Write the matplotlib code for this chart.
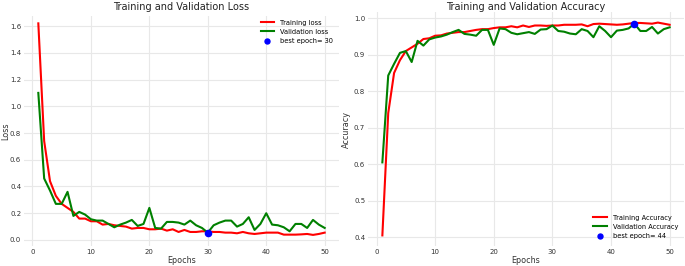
import numpy as np
import matplotlib
matplotlib.use("Agg")
import matplotlib.pyplot as plt

# data
epochs = list(range(1, 51))

train_loss = [1.62, 0.74, 0.44, 0.33, 0.27, 0.24, 0.21, 0.16, 0.16, 0.14,
              0.14, 0.115, 0.12, 0.11, 0.105, 0.10, 0.085, 0.09, 0.09, 0.08,
              0.08, 0.085, 0.07, 0.08, 0.06, 0.075, 0.06, 0.06, 0.065, 0.065,
              0.06, 0.06, 0.055, 0.055, 0.05, 0.06, 0.05, 0.045, 0.05, 0.055,
              0.055, 0.055, 0.04, 0.04, 0.04, 0.042, 0.045, 0.038, 0.045, 0.055]
val_loss = [1.10, 0.46, 0.37, 0.27, 0.27, 0.36, 0.18, 0.21, 0.19, 0.155,
            0.145, 0.145, 0.12, 0.095, 0.115, 0.13, 0.15, 0.105, 0.12, 0.24,
            0.09, 0.085, 0.135, 0.135, 0.13, 0.115, 0.145, 0.11, 0.09, 0.055,
            0.11, 0.13, 0.145, 0.145, 0.10, 0.12, 0.17, 0.075, 0.12, 0.20,
            0.115, 0.11, 0.095, 0.065, 0.12, 0.12, 0.09, 0.15, 0.115, 0.09]

train_acc = [0.405, 0.74, 0.85, 0.885, 0.91, 0.92, 0.93, 0.943, 0.945, 0.952,
             0.953, 0.958, 0.96, 0.962, 0.962, 0.965, 0.968, 0.97, 0.97, 0.973,
             0.975, 0.975, 0.978, 0.975, 0.98, 0.976, 0.98, 0.98, 0.979, 0.98,
             0.98, 0.982, 0.982, 0.982, 0.983, 0.978, 0.984, 0.985, 0.984, 0.983,
             0.982, 0.983, 0.985, 0.987, 0.987, 0.986, 0.985, 0.988, 0.985, 0.982]
val_acc = [0.605, 0.843, 0.875, 0.905, 0.91, 0.88, 0.938, 0.925, 0.942, 0.947,
           0.95, 0.955, 0.962, 0.968, 0.957, 0.955, 0.952, 0.968, 0.968, 0.927,
           0.972, 0.97, 0.96, 0.956, 0.959, 0.962, 0.957, 0.969, 0.97, 0.98,
           0.965, 0.963, 0.958, 0.956, 0.97, 0.965, 0.948, 0.978, 0.965, 0.948,
           0.966, 0.968, 0.972, 0.985, 0.965, 0.965, 0.976, 0.958, 0.97, 0.975]

best_loss_epoch = int(np.argmin(val_loss)) + 1
best_acc_epoch = int(np.argmax(val_acc)) + 1

plt.rcParams['font.family'] = 'DejaVu Sans'
fig = plt.figure(figsize=(6.85, 2.66), dpi=100)
ax1 = fig.add_axes([24/685, 20/266, 315/685, 230/266])
ax2 = fig.add_axes([368/685, 20/266, 316/685, 234/266])


def style(ax):
    ax.set_facecolor('white')
    for s in ax.spines.values():
        s.set_visible(False)
    ax.grid(True, color='#e8e8e8', linewidth=0.8)
    ax.tick_params(length=0, labelsize=5, labelcolor='#333333', pad=2)
    ax.set_xticks([0, 10, 20, 30, 40, 50])


leg_kw = dict(fontsize=4.8, frameon=False, handlelength=2.0, handletextpad=0.9,
              borderpad=0.2, labelspacing=0.45, markerscale=0.8)

# loss
ax1.plot(epochs, train_loss, color='red', lw=1.5, label='Training loss')
ax1.plot(epochs, val_loss, color='green', lw=1.5, label='Validation loss')
ax1.scatter(best_loss_epoch, val_loss[best_loss_epoch - 1], s=20, c='blue',
            zorder=5, label='best epoch= ' + str(best_loss_epoch))
style(ax1)
ax1.set_xlim(-1.45, 52.45)
ax1.set_ylim(-0.045, 1.675)
ax1.set_yticks([0.0, 0.2, 0.4, 0.6, 0.8, 1.0, 1.2, 1.4, 1.6])
ax1.set_title('Training and Validation Loss', fontsize=7, color='#222222', pad=4.5)
ax1.set_xlabel('Epochs', fontsize=5.8, color='#333333', labelpad=1)
ax1.set_ylabel('Loss', fontsize=5.8, color='#333333')
ax1.yaxis.set_label_coords(-0.045, 0.5)
ax1.legend(loc='upper right', bbox_to_anchor=(0.985, 0.99), borderaxespad=0, **leg_kw)

# accuracy
ax2.plot(epochs, train_acc, color='red', lw=1.5, label='Training Accuracy')
ax2.plot(epochs, val_acc, color='green', lw=1.5, label='Validation Accuracy')
ax2.scatter(best_acc_epoch, val_acc[best_acc_epoch - 1], s=20, c='blue',
            zorder=5, label='best epoch= ' + str(best_acc_epoch))
style(ax2)
ax2.set_xlim(-1.45, 52.45)
ax2.set_ylim(0.376, 1.017)
ax2.set_yticks([0.4, 0.5, 0.6, 0.7, 0.8, 0.9, 1.0])
ax2.set_title('Training and Validation Accuracy', fontsize=7, color='#222222', pad=1.5)
ax2.set_xlabel('Epochs', fontsize=5.8, color='#333333', labelpad=1)
ax2.set_ylabel('Accuracy', fontsize=5.8, color='#333333', labelpad=2)
ax2.legend(loc='lower right', bbox_to_anchor=(0.985, 0.025), borderaxespad=0, **leg_kw)

fig.savefig('out.png', dpi=100)
